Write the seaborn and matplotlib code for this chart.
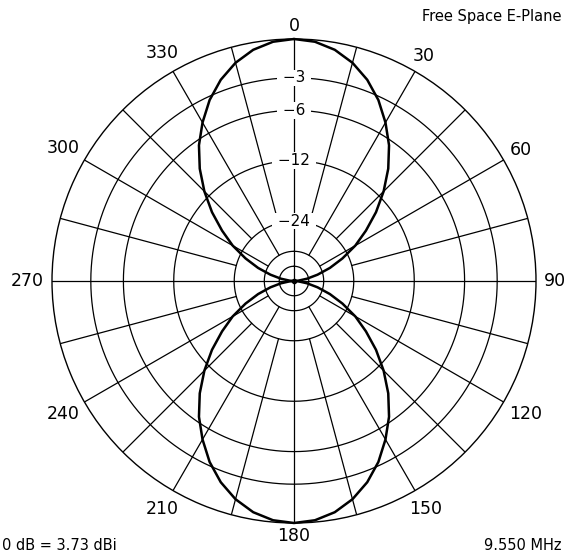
import numpy as np
import matplotlib
matplotlib.use('Agg')
import matplotlib.pyplot as plt
import seaborn as sns

# Pattern: one quarter, bearing 0..90 deg in 5 deg steps (dB rel. max)
quarter_deg = [0, 5, 10, 15, 20, 25, 30, 35, 40, 45, 50, 55, 60, 65, 70, 75, 80, 85, 90]
quarter_db = [0.0, -0.13, -0.52, -1.18, -2.1, -3.3, -4.8, -6.5, -8.6, -11.1,
              -14.0, -17.4, -21.1, -25.9, -31.7, -39.4, -49.8, -67.7, -99.0]

ring_db = [-3, -6, -12, -24, -36, -48]
ring_labels = ['−3', '−6', '−12', '−24']
bearing_labels = ['0', '30', '60', '90', '120', '150', '180', '210', '240', '270', '300', '330']

# the pattern is symmetric: mirror the quarter into a full turn
half_db = quarter_db + quarter_db[-2::-1]
full_db = half_db + half_db[1:]
full_deg = list(range(0, 361, 5))


def arrl(db):
    # ARRL log scale: radius shrinks by 0.89 every 2 dB
    return 0.89 ** (-np.asarray(db, dtype=float) / 2)


sns.set_style('white')
plt.rcParams['font.family'] = ['DejaVu Sans']
plt.rcParams['text.color'] = 'black'

fig = plt.figure(figsize=(5.67, 5.56), dpi=100)
ax = fig.add_axes([52 / 567, 33 / 556, 484 / 567, 484 / 556], projection='polar')
ax.set_theta_zero_location('N')
ax.set_theta_direction(-1)
ax.set_ylim(0, 1)
ax.set_xticks([])
ax.set_yticks([])
ax.grid(False)
ax.spines['polar'].set_linewidth(1.0)
ax.spines['polar'].set_color('black')

lw = 0.9
circ = np.linspace(0, 2 * np.pi, 361)
for db in ring_db:
    ax.plot(circ, np.full_like(circ, arrl(db)), color='black', lw=lw, zorder=1)

# radials every 15 deg, starting at different rings
for b in range(0, 360, 15):
    if b % 90 == 0:
        r0 = 0
    elif b % 30 == 0:
        r0 = arrl(-36)
    else:
        r0 = arrl(-24)
    t = np.deg2rad(b)
    ax.plot([t, t], [r0, 1], color='black', lw=lw, zorder=1)

ax.plot([0], [0], 'o', color='black', ms=3, zorder=3)

# ring labels along the 0 deg line
for db, lab in zip(ring_db, ring_labels):
    ax.text(0, arrl(db), ' ' + lab + ' ', ha='center', va='center', fontsize=11,
            bbox=dict(facecolor='white', edgecolor='none', boxstyle='square,pad=0.05'),
            zorder=4)

# bearing labels outside the circle
for lab in bearing_labels:
    b = int(lab)
    t = np.deg2rad(b)
    w = 11.5 * len(lab)
    h = 12
    r_px = 242 + 7 + 0.5 * (w * abs(np.sin(t)) + h * abs(np.cos(t)))
    ax.text(t, r_px / 242, lab, ha='center', va='center', fontsize=12.5, clip_on=False)

theta = np.deg2rad(full_deg)
radius = arrl(full_db)
sns.lineplot(x=theta, y=radius, ax=ax, sort=False, estimator=None, color='black',
             lw=1.8, clip_on=False, zorder=5)

fig.text(562 / 567, 1 - 16 / 556, 'Free Space E-Plane', ha='right', va='center', fontsize=10.5)
fig.text(2 / 567, 1 - 545 / 556, '0 dB = 3.73 dBi', ha='left', va='center', fontsize=10.5)
fig.text(562 / 567, 1 - 545 / 556, '9.550 MHz', ha='right', va='center', fontsize=10.5)

fig.savefig('out.png', dpi=100, facecolor='white')
